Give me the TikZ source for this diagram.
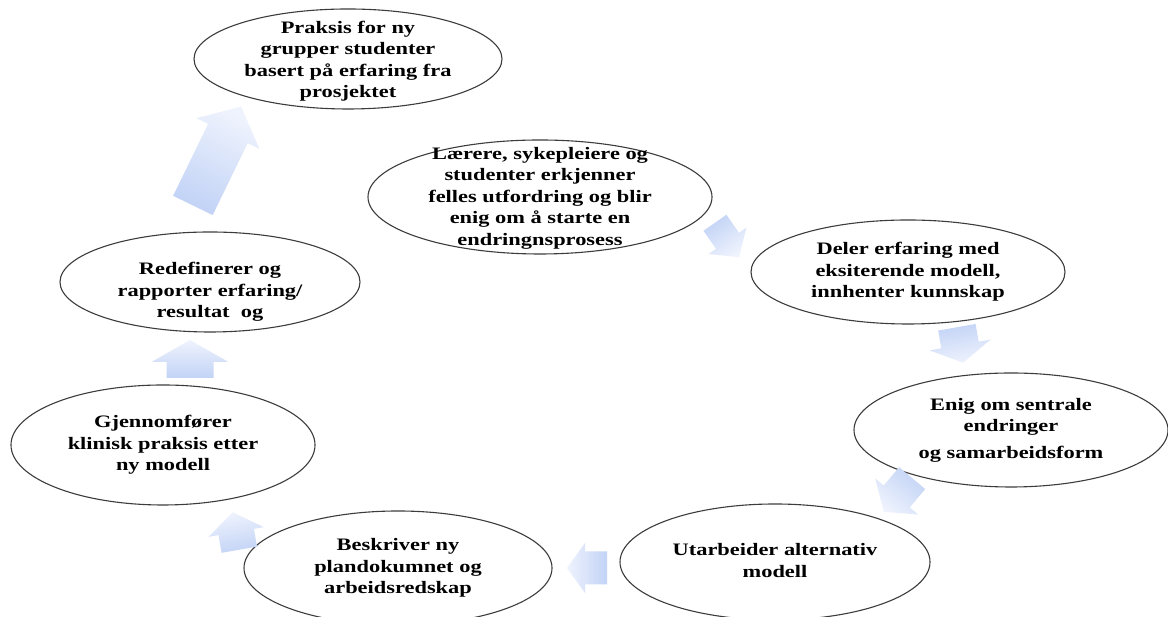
\documentclass[tikz,border=0pt]{standalone}
\usepackage{fontspec}
\setmainfont{Liberation Serif}
\usetikzlibrary{calc}
\definecolor{arrdark}{HTML}{C2D3F6}
\definecolor{arrlight}{HTML}{EFF3FD}
\definecolor{edgecol}{HTML}{3C3C3C}
\pgfdeclareverticalshading{arrshade}{100bp}{color(0bp)=(arrdark); color(25bp)=(arrdark); color(75bp)=(arrlight); color(100bp)=(arrlight)}
\newcommand\stx[1]{\scalebox{1.28}[1]{\begin{tabular}{@{}c@{}}#1\end{tabular}}}
\newcommand\blockarrow[8]{%
 \pgfmathsetmacro\baAng{#4}%
 \pgfmathsetmacro\baSh{#4-90}%
 \pgfmathsetmacro\baHL{#5/2}%
 \pgfmathsetmacro\baNL{-#5/2}%
 \pgfmathsetmacro\baNeck{#5/2-#8}%
 \pgfmathsetmacro\baS{#6/2}%
 \pgfmathsetmacro\baH{#7/2}%
 \coordinate (#1) at (#2,#3);
 \path[shading=arrshade, shading angle=\baSh]
 ($(#1)+(\baAng:\baNL)+(\baAng+90:\baS)$) -- ($(#1)+(\baAng:\baNeck)+(\baAng+90:\baS)$) -- ($(#1)+(\baAng:\baNeck)+(\baAng+90:\baH)$) -- ($(#1)+(\baAng:\baHL)$) -- ($(#1)+(\baAng:\baNeck)+(\baAng-90:\baH)$) -- ($(#1)+(\baAng:\baNeck)+(\baAng-90:\baS)$) -- ($(#1)+(\baAng:\baNL)+(\baAng-90:\baS)$) -- cycle;
}
\begin{document}
\begin{tikzpicture}[x=1pt,y=1pt,
 bubble/.style={draw=edgecol, line width=1.1pt, fill=white},
 lbl/.style={inner sep=0pt, font=\fontsize{17.5}{21.5}\selectfont\bfseries}]
\useasboundingbox (0,0) rectangle (1168,617);
\clip (0,0) rectangle (1168,617);
\fill[white] (0,0) rectangle (1168,617);
% centres
\coordinate (c1) at (348,558);
\coordinate (c2) at (540,420);
\coordinate (c3) at (908,345);
\coordinate (c4) at (1011,187);
\coordinate (c5) at (775,55);
\coordinate (c6) at (398,49);
\coordinate (c7) at (163,172);
\coordinate (c8) at (210,335);
% ellipses
\draw[bubble] (c1) ellipse [x radius=154, y radius=50];
\draw[bubble] (c2) ellipse [x radius=172, y radius=57];
\draw[bubble] (c3) ellipse [x radius=157, y radius=52];
\draw[bubble] (c4) ellipse [x radius=157, y radius=57];
\draw[bubble] (c5) ellipse [x radius=155, y radius=58];
\draw[bubble] (c6) ellipse [x radius=154, y radius=57];
\draw[bubble] (c7) ellipse [x radius=152, y radius=60];
\draw[bubble] (c8) ellipse [x radius=150, y radius=50];
% texts
\node[lbl] (praksis) at ($(c1)+(0,-2)$) {\stx{Praksis for ny\\grupper studenter\\basert på erfaring fra\\prosjektet}};
\node[lbl] (laerere) at ($(c2)+(0,-1)$) {\stx{Lærere, sykepleiere og\\studenter erkjenner\\felles utfordring og blir\\enig om å starte en\\endringnsprosess}};
\node[lbl] (deler) at (c3) {\stx{Deler erfaring med\\eksiterende modell,\\innhenter kunnskap}};
\node[lbl] (enig) at (c4) {\stx{Enig om sentrale\\endringer\\[5pt]og samarbeidsform}};
\node[lbl] (utarb) at (c5) {\stx{Utarbeider alternativ\\modell}};
\node[lbl] (beskr) at (c6) {\stx{Beskriver ny\\plandokumnet og\\arbeidsredskap}};
\node[lbl] (gjenn) at (c7) {\stx{Gjennomfører\\klinisk praksis etter\\ny modell}};
\node[lbl] (redef) at ($(c8)+(0,-10)$) {\stx{Redefinerer og\\rapporter erfaring/\\resultat\ \ og}};
% block arrows
\blockarrow{a1}{217}{461}{64}{110}{44}{70}{30}
\blockarrow{a2}{727}{377}{-55}{42}{28}{46}{20}
\blockarrow{a3}{960}{272}{-80}{36}{38}{62}{18}
\blockarrow{a4}{898}{122}{-130}{44}{34}{56}{20}
\blockarrow{a5}{587}{49}{180}{40}{33}{50}{18}
\blockarrow{a6}{236}{86}{100}{38}{36}{56}{20}
\blockarrow{a7}{190}{258}{90}{38}{47}{77}{22}
\end{tikzpicture}
\end{document}
